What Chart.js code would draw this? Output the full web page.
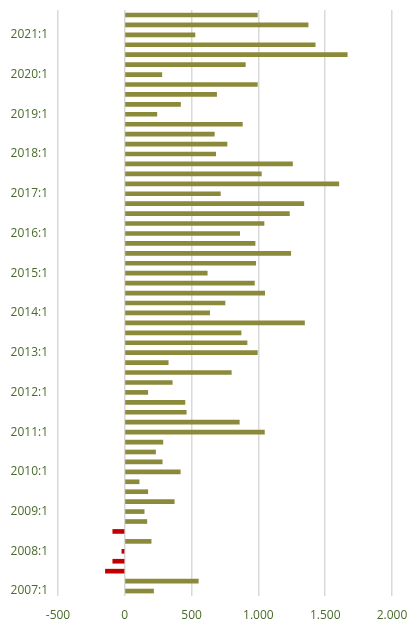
<!DOCTYPE html>
<html>
<head>
<meta charset="utf-8">
<script src="https://cdn.jsdelivr.net/npm/chart.js@4.4.1/dist/chart.umd.min.js"></script>
<style>
html,body{margin:0;padding:0;background:#fff;overflow:hidden;}
canvas{display:block;}
</style>
</head>
<body>
<canvas id="chart" width="410" height="621"></canvas>
<script>
// quarters 2007:1 .. 2021:3
const years=[2007,2008,2009,2010,2011,2012,2013,2014,2015,2016,2017,2018,2019,2020,2021];
const quarters=[1,2,3,4];
const values=[215,550,-145,-90, -22,197,-90,165, 145,370,172,107, 415,280,230,285,
    1045,857,460,450, 172,355,797,325, 992,915,870,1345, 635,750,1047,970,
    617,980,1242,975, 860,1042,1232,1340, 715,1602,1022,1255, 680,765,670,880,
    240,417,687,992, 277,902,1665,1425, 525,1372,992];
const xTicks={min:-500,max:2000,step:500};

const labels=[];
years.forEach(y=>quarters.forEach(q=>labels.push(y+":"+q)));
labels.length=values.length;

const textColor="#4A6A2C";
const fmt=v=>(v<0?"-":"")+Math.abs(v).toString().replace(/\B(?=(\d{3})+(?!\d))/g,".");

new Chart(document.getElementById("chart"),{
    type:"bar",
    data:{labels:labels,datasets:[{
        data:values,
        backgroundColor:values.map(v=>v<0?"#C00000":"#8B893A"),
        barThickness:4
    }]},
    options:{
        indexAxis:"y",
        responsive:false,
        animation:false,
        layout:{padding:{top:10,right:18,left:0,bottom:0}},
        plugins:{legend:{display:false},tooltip:{enabled:false}},
        scales:{
            x:{
                min:xTicks.min,max:xTicks.max,
                // invisible tick marks used as spacing instead of ticks.padding
                grid:{color:"#D9D9D9",lineWidth:1.5,drawTicks:true,tickLength:12,tickColor:"transparent"},
                border:{display:false},
                ticks:{stepSize:xTicks.step,padding:0,color:textColor,
                    font:{family:"Open Sans",size:12},callback:v=>fmt(v)},
                afterFit:s=>{s.height=25;}
            },
            y:{
                reverse:true,
                grid:{display:true,color:"transparent",drawTicks:true,tickLength:10,tickColor:"transparent"},
                border:{display:false},
                ticks:{autoSkip:false,padding:0,color:textColor,
                    font:{family:"Open Sans",size:12},
                    callback:function(v,i){return i%4===0?labels[i]:"";}},
                afterFit:s=>{s.width=58;}
            }
        }
    }
});
</script>
</body>
</html>
